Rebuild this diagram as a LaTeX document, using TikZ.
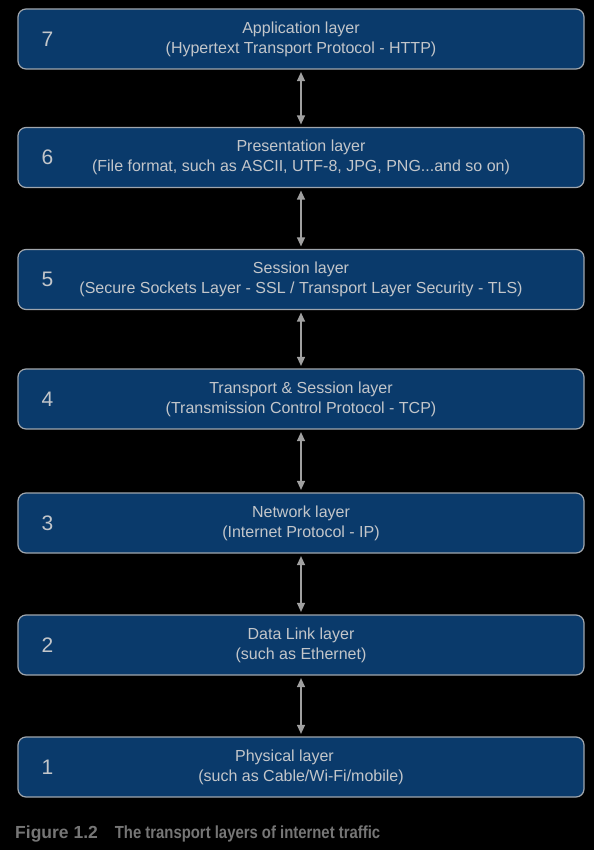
\documentclass[tikz,border=0pt]{standalone}
\usepackage{fontspec}
\setmainfont{Liberation Sans}
\newfontfamily\capfont[FakeStretch=0.85]{Liberation Sans}
\usetikzlibrary{arrows.meta}

\definecolor{layerblue}{HTML}{0A3A6B}
\definecolor{layerline}{HTML}{A0A6AD}
\definecolor{layertext}{HTML}{C3C6CA}
\definecolor{arrowgray}{HTML}{A0A0A0}
\definecolor{capgray}{HTML}{767676}

\begin{document}
\begin{tikzpicture}[x=1bp,y=-1bp]

      \fill[black] (0,0) rectangle (594,850);
      \useasboundingbox (0,0) rectangle (594,850);

      \begin{scope}[every node/.style={draw=layerline,fill=layerblue,text=layertext,
          rounded corners=8bp,line width=1.2bp,minimum width=566bp,minimum height=60bp,
          inner sep=0pt,align=center,font=\fontsize{16bp}{20bp}\selectfont}]
        \node (7) at (301,39)    {Application layer\\(Hypertext Transport Protocol - HTTP)};
        \node (6) at (301,157.5) {Presentation layer\\(File format, such as ASCII, UTF-8, JPG, PNG...and so on)};
        \node (5) at (301,279.5) {Session layer\\(Secure Sockets Layer - SSL / Transport Layer Security - TLS)};
        \node (4) at (301,399)   {Transport \& Session layer\\(Transmission Control Protocol - TCP)};
        \node (3) at (301,523)   {Network layer\\(Internet Protocol - IP)};
        \node (2) at (301,645)   {Data Link layer\\(such as Ethernet)};
        \node (1) at (301,767)   {Physical layer\hspace*{33bp}\\(such as Cable/Wi-Fi/mobile)};
      \end{scope}

      \begin{scope}[every node/.style={text=layertext,font=\fontsize{21bp}{24bp}\selectfont}]
        \node (n7) at ([xshift=30bp]7.west) {7};
        \node (n6) at ([xshift=30bp]6.west) {6};
        \node (n5) at ([xshift=30bp]5.west) {5};
        \node (n4) at ([xshift=30bp]4.west) {4};
        \node (n3) at ([xshift=30bp]3.west) {3};
        \node (n2) at ([xshift=30bp]2.west) {2};
        \node (n1) at ([xshift=30bp]1.west) {1};
      \end{scope}

      \begin{scope}[every edge/.style={draw=arrowgray,line width=1.3bp,
          {Triangle[length=9bp,width=8bp]}-{Triangle[length=9bp,width=8bp]},
          shorten <=2.5bp,shorten >=2.5bp}]
        \path (7) edge (6);
        \path (6) edge (5);
        \path (5) edge (4);
        \path (4) edge (3);
        \path (3) edge (2);
        \path (2) edge (1);
      \end{scope}

      \node[anchor=base west,text=capgray,inner sep=0pt,
        font=\bfseries\fontsize{17.5bp}{20bp}\selectfont] (caption) at (15,838)
        {Figure 1.2\hspace{17bp}{\capfont\bfseries The transport layers of internet traffic}};

    \end{tikzpicture}
\end{document}
